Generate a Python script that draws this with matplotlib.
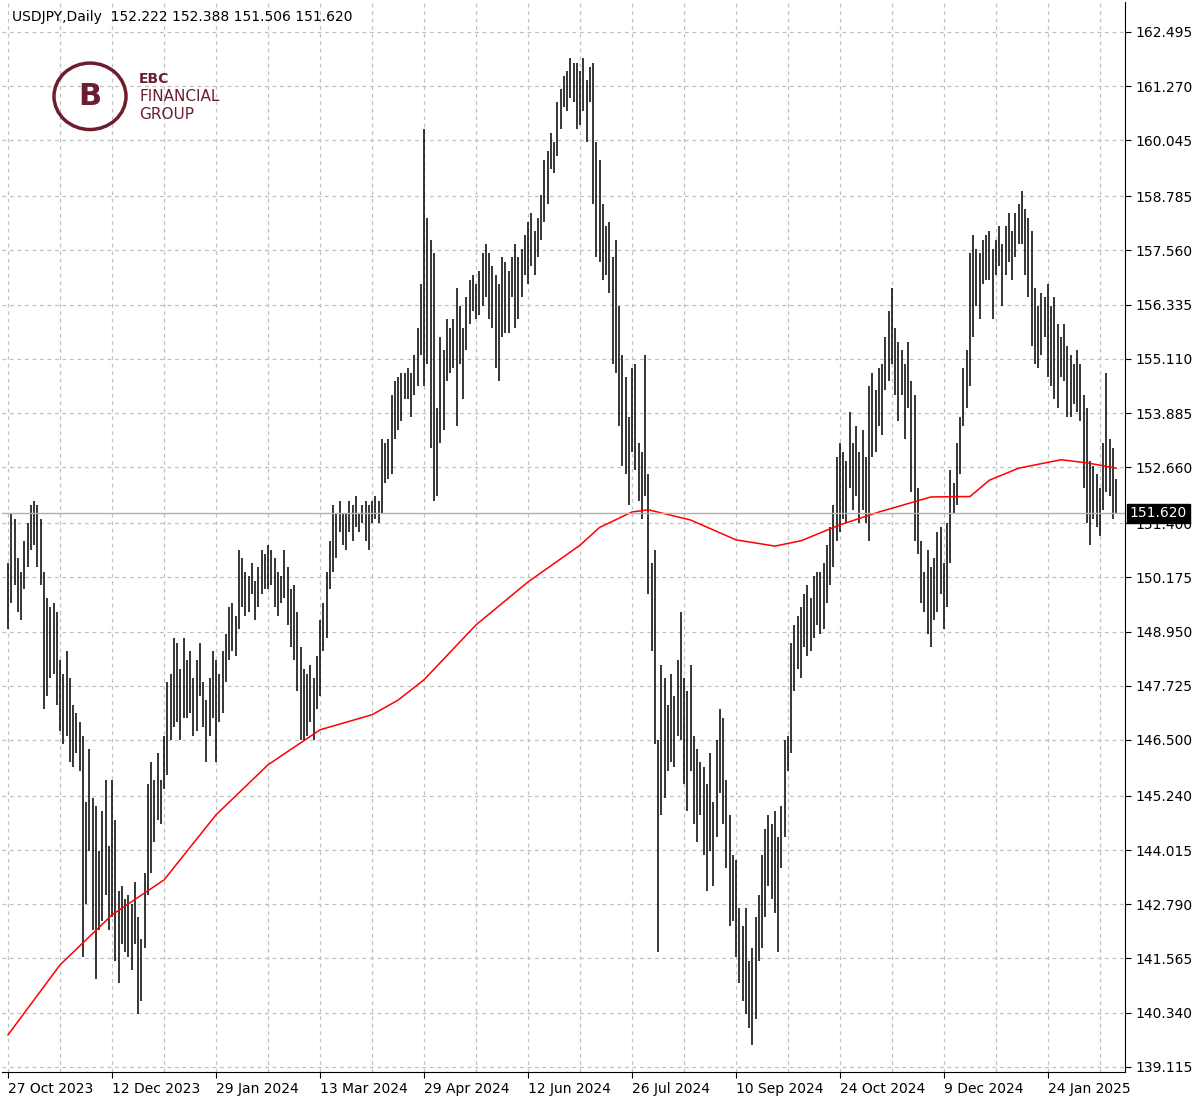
import matplotlib
matplotlib.use("Agg")
import matplotlib.pyplot as plt
from matplotlib.patches import Circle

highs = [150.5,151.6,151.5,150.6,150.3,151.0,151.4,151.8,151.9,151.8,151.5,150.3,149.7,149.5,149.6,149.4,148.3,148.0,148.5,147.9,147.3,147.1,146.9,146.6,145.1,146.3,145.2,145.0,144.0,144.9,145.6,144.1,
145.6,144.7,143.1,143.2,142.9,143.0,142.8,143.3,142.5,142.0,143.5,145.5,146.0,145.6,146.2,145.6,146.6,147.8,148.0,148.8,148.7,148.1,148.8,148.3,148.5,147.9,148.3,148.7,147.8,147.4,147.9,148.5,
148.3,148.0,148.5,148.9,149.5,149.6,149.3,150.8,150.6,150.3,150.2,150.5,150.1,150.4,150.8,150.7,150.9,150.8,150.6,150.3,150.2,150.8,150.4,149.9,150.0,149.4,148.6,148.1,148.0,148.2,147.9,148.4,
149.2,149.6,150.3,151.0,151.8,151.6,151.9,151.6,151.6,151.9,151.8,152.0,151.6,151.8,151.9,151.8,151.9,152.0,151.9,153.3,153.2,153.3,154.3,154.6,154.7,154.8,154.8,154.9,154.8,155.2,155.8,156.8,
160.3,158.3,157.8,157.5,154.0,155.6,155.3,156.0,155.8,156.0,156.7,156.3,155.8,156.5,156.9,157.0,156.8,157.1,157.5,157.7,157.5,157.2,157.0,156.8,157.4,157.3,157.1,157.4,157.7,157.4,157.6,157.9,
158.2,158.4,158.0,158.3,158.8,159.6,159.8,160.2,160.0,160.9,161.2,161.5,161.6,161.9,161.8,161.8,161.6,161.9,161.4,161.7,161.8,160.0,159.6,158.6,158.1,158.2,157.4,157.8,156.3,155.2,154.7,153.8,
154.9,155.0,153.2,153.0,155.2,152.5,150.5,150.8,146.5,148.2,147.9,147.3,148.0,147.5,148.3,149.4,147.9,147.6,148.2,146.6,146.3,146.0,145.9,145.5,146.2,145.1,146.5,147.2,147.0,145.6,144.8,143.9,
143.8,142.7,142.3,142.7,141.5,141.8,142.5,143.0,143.9,144.5,144.8,144.6,144.9,144.3,145.0,146.5,146.6,148.7,149.1,149.3,149.5,149.8,150.0,149.7,150.2,150.3,150.3,150.5,150.9,151.3,151.8,152.9,
153.2,153.0,152.8,153.9,153.2,153.6,153.0,153.5,152.9,154.5,154.8,154.4,154.9,155.0,155.6,156.2,156.7,155.8,155.5,155.3,155.0,155.5,154.6,154.3,152.2,151.0,150.3,150.8,150.4,150.6,151.2,151.3,
150.5,151.4,152.6,152.3,153.2,153.8,154.9,155.3,157.5,157.9,157.6,157.5,157.8,157.9,158.0,157.6,157.8,158.1,157.7,158.1,158.4,158.0,158.4,158.6,158.9,158.5,158.3,158.0,156.7,156.3,156.6,156.5,
156.8,156.3,156.5,155.9,155.6,155.9,155.4,155.2,155.0,155.3,155.0,154.3,154.0,152.8,152.7,152.5,152.2,153.2,154.8,153.3,153.1,152.4]
lows = [149.0,149.6,150.0,149.4,149.2,149.9,150.4,150.8,150.9,150.4,150.0,147.2,147.5,147.9,148.0,147.3,146.7,146.4,146.6,146.0,145.9,146.2,145.8,141.6,142.8,144.0,142.2,141.1,142.2,142.4,143.0,142.2,
142.5,141.5,141.0,141.9,141.7,141.6,141.3,141.9,140.3,140.6,141.8,143.0,143.5,144.2,144.7,144.6,145.4,145.7,146.5,146.8,146.9,146.5,147.0,147.0,147.1,146.6,146.7,147.5,146.8,146.0,146.6,147.0,
146.0,146.9,147.1,147.8,148.3,148.5,148.4,149.0,149.5,149.3,149.4,149.8,149.2,149.5,149.8,149.9,149.9,150.0,149.5,149.3,149.6,149.7,149.1,148.6,148.3,147.6,146.5,146.5,146.6,146.9,146.5,147.2,
147.5,148.5,148.8,149.9,150.3,150.6,151.2,150.9,150.8,151.2,151.0,151.3,151.2,151.4,151.0,150.8,151.4,151.5,151.4,151.6,152.3,152.4,152.5,153.3,153.5,153.7,154.2,154.2,153.8,154.3,154.5,155.2,
154.5,155.0,153.1,151.9,152.0,153.2,153.5,154.6,154.8,154.9,153.6,155.0,154.2,155.3,155.9,156.2,156.0,156.1,156.3,156.5,156.0,155.8,154.9,154.6,155.6,155.7,155.7,156.5,155.8,156.0,156.5,157.0,
156.8,157.2,157.0,157.4,157.8,158.2,158.6,159.4,159.3,159.7,160.3,160.8,160.7,161.0,160.9,160.3,160.4,160.7,160.0,160.9,158.6,157.4,157.3,156.9,157.0,156.6,155.0,154.8,153.6,152.7,152.5,151.8,
153.0,152.6,151.9,151.5,152.0,149.8,148.5,146.4,141.7,144.8,145.2,145.8,146.0,145.9,146.6,146.5,145.5,144.9,145.8,144.6,144.2,144.8,143.9,143.1,144.0,143.2,144.3,145.3,144.6,143.6,142.3,142.4,
141.6,141.0,140.6,140.3,140.0,139.6,140.2,141.5,141.8,142.5,143.2,142.9,142.6,141.7,143.6,144.3,145.8,146.2,147.6,148.1,147.9,148.6,148.4,148.5,148.8,149.1,148.9,149.0,149.6,150.0,150.4,151.0,
151.2,151.5,151.4,152.2,151.7,152.0,151.4,151.7,151.4,151.0,152.9,153.0,153.6,153.4,154.4,154.6,155.0,154.3,153.7,154.3,153.3,154.0,152.1,151.0,150.7,149.6,149.4,148.9,148.6,149.2,149.4,149.8,
149.0,149.5,150.5,151.6,151.8,152.5,153.6,154.0,154.5,155.6,156.3,156.0,156.8,156.9,156.9,156.0,157.0,157.2,156.3,157.0,157.3,156.9,157.4,157.7,157.7,157.0,156.5,155.4,155.0,154.9,155.2,155.6,
154.7,154.5,154.2,154.0,154.7,154.6,153.8,153.8,154.1,153.9,153.7,152.2,151.4,150.9,151.5,151.3,151.1,151.7,152.1,152.0,151.5,151.6]
ma_idx = [0,16,32,48,64,80,96,112,120,128,144,160,176,182,192,197,210,224,236,244,256,268,284,296,302,311,324,332,341]
ma_val = [139.84,141.42,142.55,143.34,144.81,145.94,146.73,147.07,147.4,147.86,149.1,150.07,150.9,151.3,151.65,151.7,151.47,151.02,150.88,151.0,151.36,151.65,151.99,152.0,152.37,152.64,152.83,152.76,152.64]
price_ticks = [162.495,161.270,160.045,158.785,157.560,156.335,155.110,153.885,152.660,151.400,150.175,148.950,147.725,146.500,145.240,144.015,142.790,141.565,140.340,139.115]
date_pos = [0,32,64,96,128,160,192,224,256,288,320]
date_labels = ["27 Oct 2023","12 Dec 2023","29 Jan 2024","13 Mar 2024","29 Apr 2024","12 Jun 2024",
               "26 Jul 2024","10 Sep 2024","24 Oct 2024","9 Dec 2024","24 Jan 2025"]
last_price = 151.620

fig = plt.figure(figsize=(12, 11.07), dpi=100)
ax = fig.add_axes([0.0017, 0.0316, 0.9358, 0.9666])
n = len(highs)
ax.vlines(range(n), lows, highs, color="black", lw=1.1)
ax.plot(ma_idx, ma_val, color="#ff0000", lw=1.1)
ax.axhline(last_price, color="#b0b0b0", lw=1)
ax.set_xlim(-1.85, 343.7)
ax.set_ylim(139.0, 163.17)
ax.yaxis.tick_right()
ax.set_yticks(price_ticks)
ax.set_yticklabels([f"{v:.3f}" for v in price_ticks], fontsize=10)
ax.set_xticks(date_pos)
ax.set_xticklabels(date_labels, fontsize=10, ha="left")
ax.set_xticks([p + 16 for p in date_pos], minor=True)
ax.tick_params(axis="x", which="minor", length=0)
ax.tick_params(length=4)
ax.grid(True, which="both", color="#c0c0c0", ls=(0, (3, 3)), lw=0.9)
for s in ["top", "left"]:
    ax.spines[s].set_visible(False)
ax.text(1.004, (last_price - 139.0) / (163.17 - 139.0), f"{last_price:.3f}", transform=ax.transAxes,
        va="center", ha="left", fontsize=10, color="white",
        bbox=dict(boxstyle="square,pad=0.2", fc="black", ec="black"))
fig.text(0.01, 0.985, "USDJPY,Daily  152.222 152.388 151.506 151.620", fontsize=10, va="center")
maroon = "#6b1f2e"
fig.add_artist(Circle((0.075, 0.913), 0.03, transform=fig.transFigure, fill=False, ec=maroon, lw=2.5))
fig.text(0.075, 0.913, "B", color=maroon, fontsize=22, ha="center", va="center", weight="bold")
fig.text(0.116, 0.929, "EBC", color=maroon, fontsize=10, weight="bold", va="center")
fig.text(0.116, 0.913, "FINANCIAL", color=maroon, fontsize=11, va="center")
fig.text(0.116, 0.897, "GROUP", color=maroon, fontsize=11, va="center")
fig.savefig("out.png", dpi=100)
